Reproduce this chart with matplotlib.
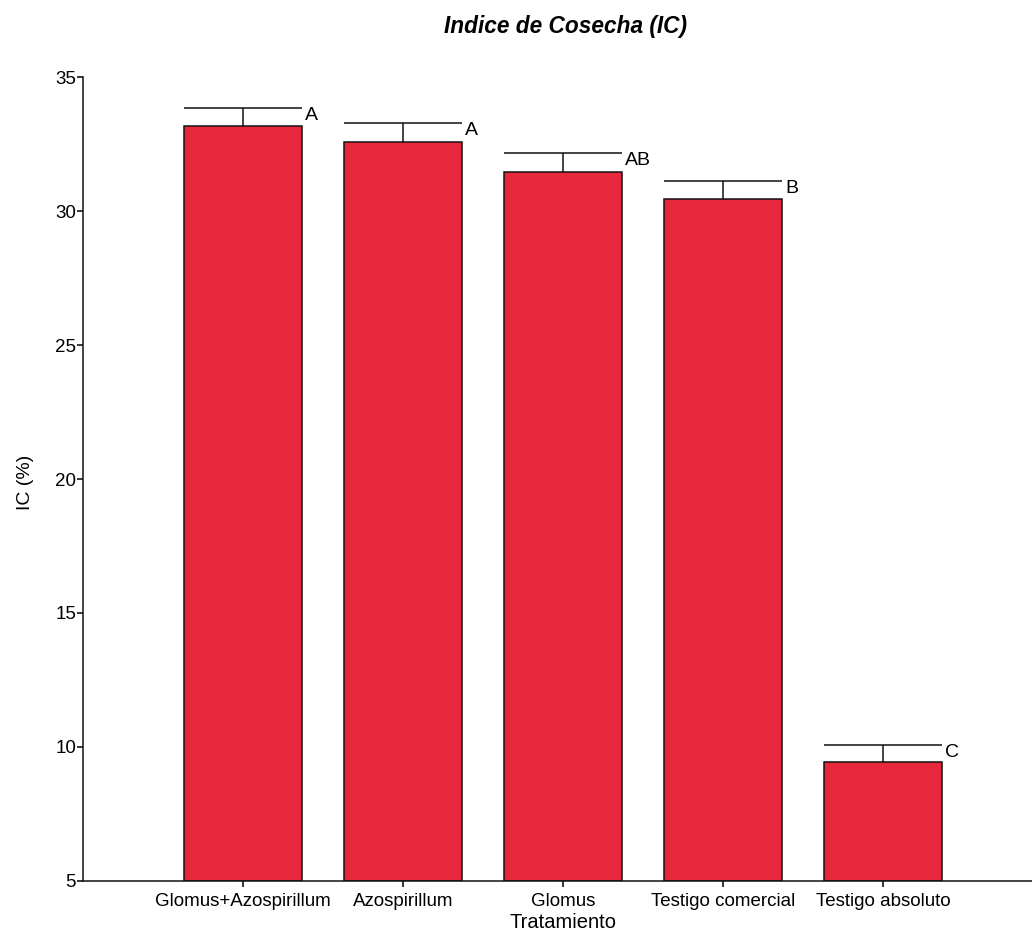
import matplotlib
matplotlib.use("Agg")
import matplotlib.pyplot as plt
import numpy as np

categories = ["Glomus+Azospirillum", "Azospirillum", "Glomus", "Testigo comercial", "Testigo absoluto"]
means = [33.17, 32.57, 31.46, 30.45, 9.44]
errors = [0.67, 0.71, 0.70, 0.67, 0.63]
letters = ["A", "A", "AB", "B", "C"]
yticks = [5, 10, 15, 20, 25, 30, 35]

plt.rcParams['font.family'] = ['Liberation Sans', 'DejaVu Sans']

fig = plt.figure(figsize=(10.32, 9.35), dpi=100)
ax = fig.add_axes([0.0804, 0.0578, 0.9196, 0.8598])

x = np.arange(len(categories))
w = 0.74
bottom = 5
heights = [m - bottom for m in means]
ax.bar(x, heights, width=w, bottom=bottom, color='#E8283C', edgecolor='#111111', linewidth=1.1, zorder=2)

tops = [m + e for m, e in zip(means, errors)]
ax.vlines(x, means, tops, color='#111111', linewidth=1.1, zorder=3)
ax.hlines(tops, x - w / 2, x + w / 2, color='#111111', linewidth=1.1, zorder=3)
for xi, t, lab in zip(x, tops, letters):
    ax.annotate(lab, xy=(xi + w / 2, t), xytext=(3, -7), textcoords='offset pixels',
                ha='left', va='center', fontsize=14)

ax.set_xlim(-1.0, 4.93)
ax.set_ylim(5, 35)
ax.set_yticks(yticks)
ax.set_xticks(x)
ax.set_xticklabels(categories, fontsize=13.5)
ax.tick_params(axis='y', labelsize=13.5, length=4, width=1.1, direction='out', pad=1)
ax.tick_params(axis='x', length=4, width=1.1, direction='out', pad=5)
for s in ['top', 'right']:
    ax.spines[s].set_visible(False)
for s in ['left', 'bottom']:
    ax.spines[s].set_linewidth(1.1)
    ax.spines[s].set_color('#111111')

fig.text(25 / 1032, 1 - 482 / 935, "IC (%)", rotation=90, ha='center', va='center', fontsize=14)
fig.text(563 / 1032, 1 - 923 / 935, "Tratamiento", ha='center', va='center', fontsize=14.5)
fig.text(565 / 1032, 1 - 27 / 935, "Indice de Cosecha (IC)", ha='center', va='center',
         fontsize=16.3, fontweight='bold', fontstyle='italic')

fig.savefig("out.png", dpi=100)
